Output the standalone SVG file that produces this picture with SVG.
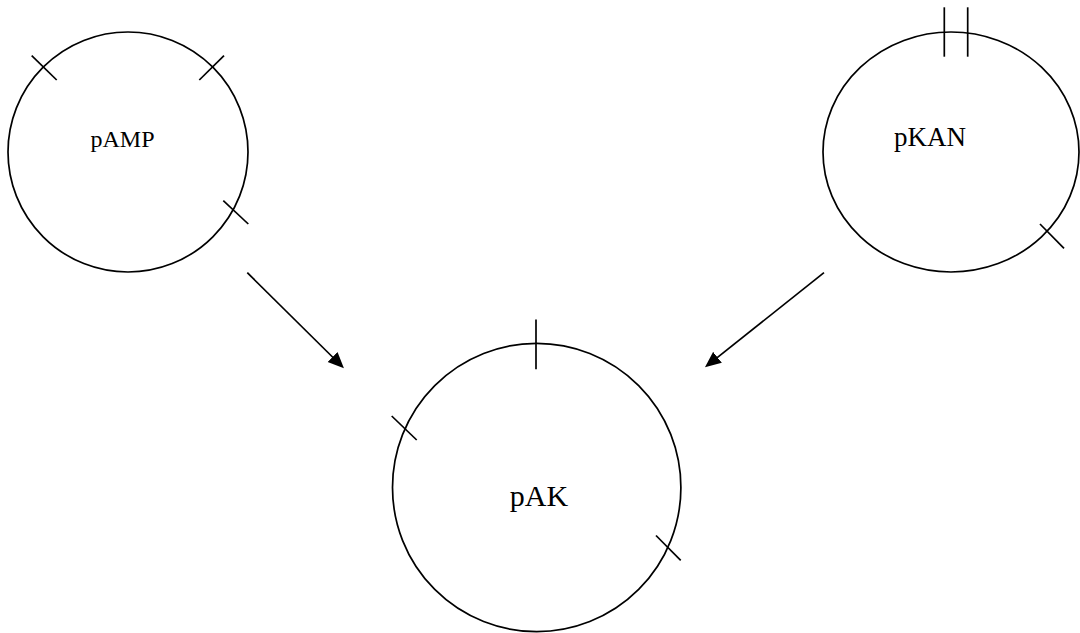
<svg xmlns="http://www.w3.org/2000/svg" width="1080" height="633" viewBox="0 0 1080 633">
<style>
.ring{fill:none;stroke:#000;stroke-width:1.7}
.tick{stroke:#000;stroke-width:1.7;fill:none}
.lbl{font-family:"Liberation Serif","Times New Roman",serif;fill:#000;text-anchor:middle}
.conn{stroke:#000;stroke-width:1.7;fill:none;marker-end:url(#ah)}
</style>
<defs>
<marker id="ah" markerUnits="userSpaceOnUse" markerWidth="17" markerHeight="15" refX="12" refY="7.5" orient="auto">
<path d="M0,0.5 L16,7.5 L0,14.5 z" fill="#000"/>
</marker>
</defs>
<rect width="1080" height="633" fill="#fff"/>
<g id="pAMP">
<circle class="ring" cx="128" cy="152" r="120"/>
<line class="tick" x1="31.7" y1="55.7" x2="56.7" y2="80"/>
<line class="tick" x1="199.3" y1="80" x2="224" y2="55.7"/>
<line class="tick" x1="223.3" y1="200.7" x2="248.3" y2="224"/>
<text class="lbl" x="122.5" y="147" font-size="24">pAMP</text>
</g>
<g id="pKAN">
<ellipse class="ring" cx="951" cy="152" rx="128" ry="120"/>
<line class="tick" x1="944.3" y1="7.3" x2="944.3" y2="56.7"/>
<line class="tick" x1="967.7" y1="7.3" x2="967.7" y2="56.7"/>
<line class="tick" x1="1040" y1="224" x2="1064" y2="248.3"/>
<text class="lbl" x="930" y="146" font-size="27">pKAN</text>
</g>
<g id="pAK">
<circle class="ring" cx="536.7" cy="487.5" r="144.2"/>
<line class="tick" x1="536" y1="319.5" x2="536" y2="369.3"/>
<line class="tick" x1="391.7" y1="416" x2="416.7" y2="440"/>
<line class="tick" x1="656" y1="535.5" x2="680.7" y2="560.3"/>
<text class="lbl" x="539" y="506" font-size="30">pAK</text>
</g>
<g id="connectors">
<line class="conn" x1="247.3" y1="272.7" x2="341.1" y2="365.5"/>
<line class="conn" x1="824" y1="272.7" x2="708.1" y2="364.8"/>
</g>
</svg>
